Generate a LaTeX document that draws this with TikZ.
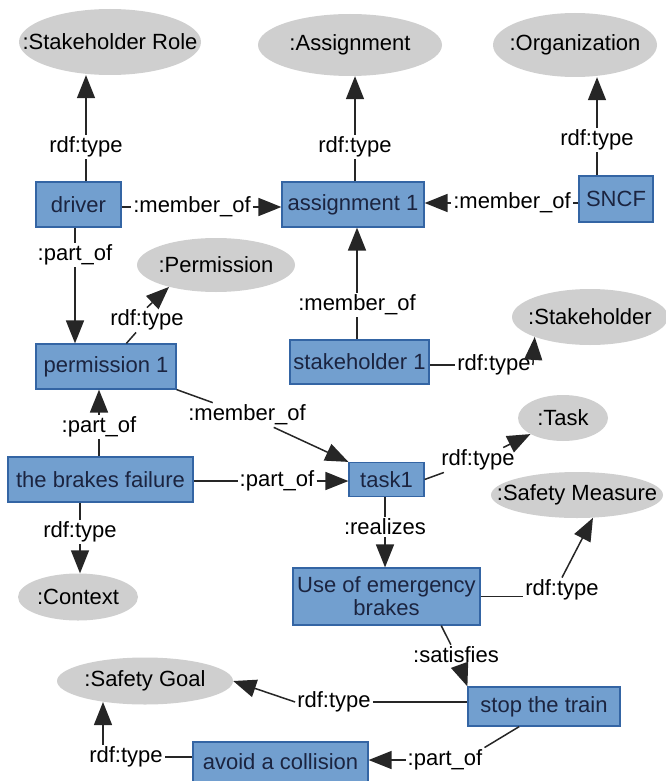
\documentclass[tikz,border=0pt]{standalone}
\usepackage{fontspec}
\setmainfont{Liberation Sans}
\usepackage{xcolor}
\usepackage{tikz}
\usetikzlibrary{
	arrows.meta,
	shapes.geometric,
	calc
}

\definecolor{boxfill}{HTML}{729FCF}
\definecolor{boxline}{HTML}{3465A4}
\definecolor{boxtext}{HTML}{1B2440}
\definecolor{clsfill}{HTML}{CFCFCF}
\definecolor{edgecol}{HTML}{262626}

\newcommand{\clsname}[1]{\makebox[0pt]{#1}}

\begin{document}
\begin{tikzpicture}[x=1pt, y=-1pt,
		every node/.style={font=\fontsize{22}{23}\selectfont},
		inst/.style={rectangle, draw=boxline, line width=1.2pt, fill=boxfill, text=boxtext, inner sep=0pt, align=center},
		cls/.style={ellipse, fill=clsfill, inner sep=0pt},
		lbl/.style={inner sep=2pt},
		rel/.style={draw=edgecol, line width=1.5pt},
		relarr/.style={rel, -{Triangle[length=23pt,width=18pt]}}]
		\useasboundingbox (0,0) rectangle (665,781);
		
		% 类（椭圆）
		\node[cls, minimum width=182pt, minimum height=66pt] (srole) at (110,42) {\clsname{:Stakeholder Role}};
		\node[cls, minimum width=184pt, minimum height=62pt] (assigncls) at (350,45) {\clsname{:Assignment}};
		\node[cls, minimum width=164pt, minimum height=64pt] (orgcls) at (575,45) {\clsname{:Organization}};
		\node[cls, minimum width=158pt, minimum height=54pt] (permcls) at (216,265) {\clsname{:Permission}};
		\node[cls, minimum width=156pt, minimum height=56pt] (shcls) at (590,317) {\clsname{:Stakeholder}};
		\node[cls, minimum width=90pt, minimum height=46pt] (taskcls) at (563,418) {\clsname{:Task}};
		\node[cls, minimum width=172pt, minimum height=46pt] (smcls) at (577,495) {\clsname{:Safety Measure}};
		\node[cls, minimum width=120pt, minimum height=47pt] (ctxcls) at (78,597) {\clsname{:Context}};
		\node[cls, minimum width=176pt, minimum height=47pt] (sgcls) at (145,681) {\clsname{:Safety Goal}};
		
		% 实例（方框）
		\node[inst, minimum width=85pt, minimum height=45pt] (driver) at (78.5,204.5) {driver};
		\node[inst, minimum width=142pt, minimum height=45pt] (assign) at (353,204.5) {assignment 1};
		\node[inst, minimum width=74pt, minimum height=46pt] (sncf) at (616,199) {SNCF};
		\node[inst, minimum width=140pt, minimum height=45pt] (perm) at (106,366.5) {permission 1};
		\node[inst, minimum width=139pt, minimum height=44pt] (sh1) at (359.5,362) {stakeholder 1};
		\node[inst, minimum width=185pt, minimum height=45pt] (brakes) at (100.5,479.5) {the brakes failure};
		\node[inst, minimum width=75pt, minimum height=34pt] (task) at (386.5,479.5) {task1};
		\node[inst, minimum width=187pt, minimum height=57pt] (emerg) at (386.5,596.5) {Use of emergency\\brakes};
		\node[inst, minimum width=152pt, minimum height=39pt] (stop) at (544,706.5) {stop the train};
		\node[inst, minimum width=175pt, minimum height=40pt] (avoid) at (280.5,762) {avoid a collision};
		
		% 关系标签
		\node[lbl] (tdriver) at (86,147) {rdf:type};
		\node[lbl] (mdriver) at (192,207) {:member\_of};
		\node[lbl] (msncf) at (512,203) {:member\_of};
		\node[lbl] (tassign) at (355,147) {rdf:type};
		\node[lbl] (tsncf) at (597,140) {rdf:type};
		\node[lbl] (pdriver) at (75,255) {:part\_of};
		\node[lbl] (tperm) at (147,320) {rdf:type};
		\node[lbl] (msh) at (357,305) {:member\_of};
		\node[lbl] (tsh) at (494,365) {rdf:type};
		\node[lbl] (mperm) at (247,415) {:member\_of};
		\node[lbl] (pbrakes) at (99,427) {:part\_of};
		\node[lbl] (pbrakes2) at (277,481) {:part\_of};
		\node[lbl] (tbrakes) at (80,532) {rdf:type};
		\node[lbl] (ttask) at (478,460) {rdf:type};
		\node[lbl] (rtask) at (385,527) {:realizes};
		\node[lbl] (temerg) at (562,590) {rdf:type};
		\node[lbl] (semerg) at (456,655) {:satisfies};
		\node[lbl] (tstop) at (334,702) {rdf:type};
		\node[lbl] (pstop) at (445,760) {:part\_of};
		\node[lbl] (tavoid) at (126,757) {rdf:type};
		\coordinate (sgfoot) at (103,702);
		
		% 连线
		\draw[rel] (driver.north -| tdriver) -- (tdriver);
		\draw[relarr] (tdriver) -- (tdriver |- srole.south);
		\draw[rel] (driver.east |- mdriver) -- (mdriver);
		\draw[relarr] (mdriver) -- (mdriver -| assign.west);
		\draw[rel] (sncf.west |- msncf) -- (msncf);
		\draw[relarr] (msncf) -- (msncf -| assign.east);
		\draw[rel] (assign.north -| tassign) -- (tassign);
		\draw[relarr] (tassign) -- (tassign |- assigncls.south);
		\draw[rel] (sncf.north -| tsncf) -- (tsncf);
		\draw[relarr] (tsncf) -- (tsncf |- orgcls.south);
		
		\draw[rel] (driver.south -| pdriver) -- (pdriver);
		\draw[relarr] (pdriver) -- (pdriver |- perm.north);
		\draw[rel] (perm) -- (tperm);
		\draw[relarr] (tperm.north) -- (permcls.205);
		\draw[rel] (sh1.north -| msh) -- (msh);
		\draw[relarr] (msh) -- (msh |- assign.south);
		\draw[rel] (sh1.east |- tsh) -- (tsh);
		\draw[relarr] (tsh.east) -- (shcls.south west);
		
		\draw[rel] (perm.south east) -- (mperm);
		\draw[relarr] (mperm) -- (task.north west);
		\draw[rel] (brakes.north -| pbrakes) -- (pbrakes);
		\draw[relarr] (pbrakes) -- (pbrakes |- perm.south);
		\draw[rel] (brakes.east |- pbrakes2) -- (pbrakes2);
		\draw[relarr] (pbrakes2) -- (pbrakes2 -| task.west);
		\draw[rel] (brakes.south -| tbrakes) -- (tbrakes);
		\draw[relarr] (tbrakes) -- (tbrakes |- ctxcls.north);
		
		\draw[rel] (task.east) -- (ttask);
		\draw[relarr] (ttask) -- (taskcls);
		\draw[rel] (task.south -| rtask) -- (rtask);
		\draw[relarr] (rtask) -- (rtask |- emerg.north);
		\draw[rel] (emerg.east) -- (emerg.east -| temerg.west);
		\draw[relarr] (temerg.north) -- (smcls.305);
		\draw[rel] (emerg.332) -- (semerg);
		\draw[relarr] (semerg) -- (stop.north west);
		
		\draw[rel] (tstop) -- (tstop -| stop.west);
		\draw[relarr] (tstop.west) -- (sgcls.east);
		\draw[rel] (stop.219) -- (pstop.north east);
		\draw[relarr] (pstop) -- (pstop -| avoid.east);
		\draw[rel] (tavoid) -- (tavoid -| avoid.west);
		\draw[relarr] (tavoid.north -| sgfoot) -- (sgfoot);
	\end{tikzpicture}
\end{document}
